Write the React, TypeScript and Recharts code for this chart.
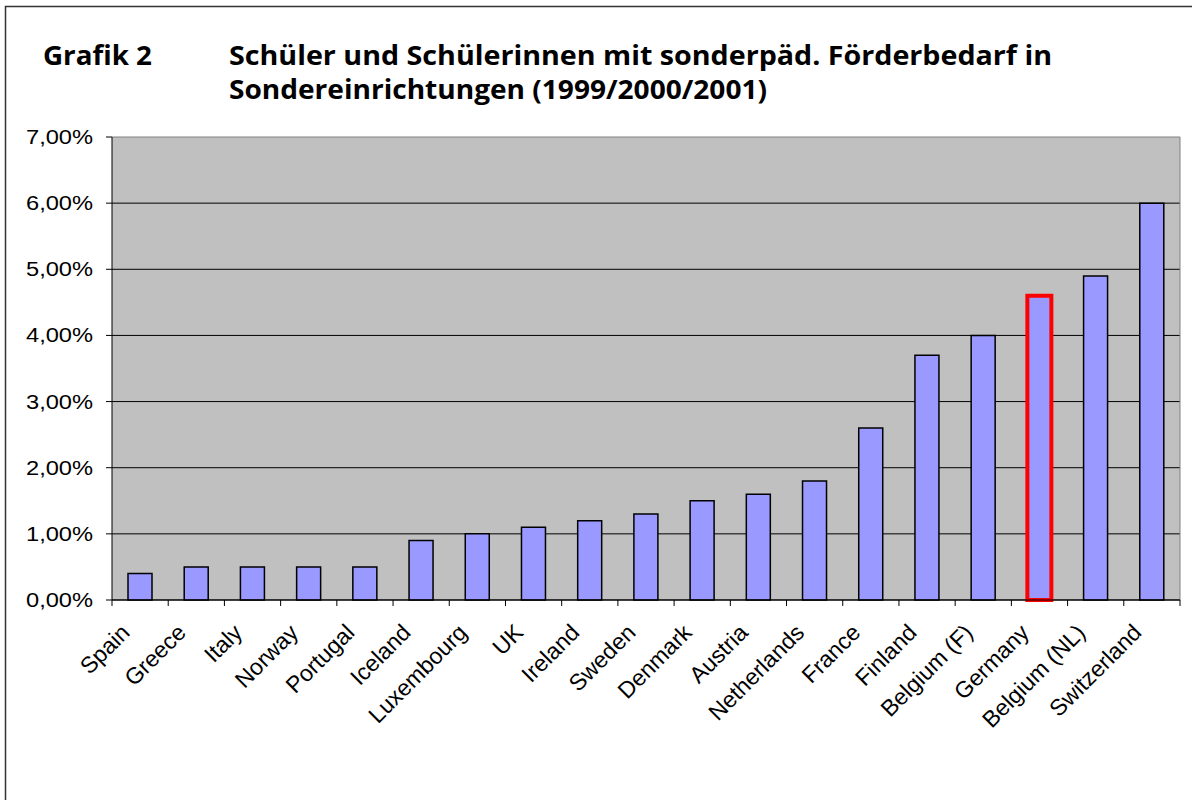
import { BarChart, Bar, Cell, XAxis, YAxis, CartesianGrid } from "recharts";

const countries = [
  "Spain",
  "Greece",
  "Italy",
  "Norway",
  "Portugal",
  "Iceland",
  "Luxembourg",
  "UK",
  "Ireland",
  "Sweden",
  "Denmark",
  "Austria",
  "Netherlands",
  "France",
  "Finland",
  "Belgium (F)",
  "Germany",
  "Belgium (NL)",
  "Switzerland",
];
// Anteil in Prozent
const shares = [0.4, 0.5, 0.5, 0.5, 0.5, 0.9, 1.0, 1.1, 1.2, 1.3, 1.5, 1.6, 1.8, 2.6, 3.7, 4.0, 4.6, 4.9, 6.0];
const yTicks = [0, 1, 2, 3, 4, 5, 6, 7];
const highlighted = ["Germany"];
const titleLabel = "Grafik 2";
const titleLines = [
  "Schüler und Schülerinnen mit sonderpäd. Förderbedarf in",
  "Sondereinrichtungen (1999/2000/2001)",
];

const data = countries.map((name, i) => ({ name, value: shares[i] }));

const axisFont = "'Liberation Sans', Arial, sans-serif";
const titleFont = "'Open Sans', 'Noto Sans', sans-serif";

const fmtPercent = (v: number) => v.toFixed(2).replace(".", ",") + "%";

const CountryTick = (props: any) => {
  const { x, y, payload, index, visibleTicksCount } = props;
  const half = payload.offset ?? 28.1;
  const axisY = y - 6;
  return (
    <g>
      <line x1={x - half} x2={x - half} y1={axisY} y2={axisY + 6} stroke="#000" />
      {index === visibleTicksCount - 1 && (
        <line x1={x + half} x2={x + half} y1={axisY} y2={axisY + 6} stroke="#000" />
      )}
      <text
        transform={`translate(${x - 9},${y + 28}) rotate(-45)`}
        textAnchor="end"
        fontSize={23}
        fontFamily={axisFont}
        fill="#000"
      >
        {payload.value}
      </text>
    </g>
  );
};

const PercentTick = (props: any) => {
  const { x, y, payload } = props;
  return (
    <text
      x={x}
      y={y}
      dy={7}
      textAnchor="end"
      fontSize={20}
      fontFamily={axisFont}
      fill="#000"
      textLength={67}
      lengthAdjust="spacingAndGlyphs"
    >
      {fmtPercent(payload.value)}
    </text>
  );
};

export default function App() {
  return (
    <div style={{ position: "absolute", left: 0, top: 0, width: 1192, height: 800, background: "#fff" }}>
      <BarChart
        width={1192}
        height={800}
        data={data}
        margin={{ top: 137, right: 12, left: 0, bottom: 0 }}
      >
        <CartesianGrid
          fill="#C0C0C0"
          fillOpacity={1}
          vertical={false}
          stroke="#000"
          horizontalValues={yTicks.slice(0, -1)}
        />
        <CartesianGrid
          horizontalValues={[7]}
          verticalCoordinatesGenerator={({ offset }: any) => [offset.left + offset.width]}
          stroke="#808080"
        />
        <XAxis
          dataKey="name"
          interval={0}
          height={200}
          tickSize={6}
          tickMargin={0}
          tickLine={false}
          axisLine={{ stroke: "#000" }}
          tick={<CountryTick />}
        />
        <YAxis
          width={112}
          domain={[0, 7]}
          ticks={yTicks}
          tickSize={6}
          tickMargin={13}
          axisLine={{ stroke: "#000" }}
          tickLine={{ stroke: "#000" }}
          tick={<PercentTick />}
        />
        <Bar dataKey="value" barSize={24} isAnimationActive={false}>
          {data.map((d) => {
            const hot = highlighted.includes(d.name);
            return (
              <Cell
                key={d.name}
                fill="#9999FF"
                stroke={hot ? "#FF0000" : "#000"}
                strokeWidth={hot ? 4 : 1.5}
              />
            );
          })}
        </Bar>
      </BarChart>
      <svg
        width={1192}
        height={800}
        style={{ position: "absolute", left: 0, top: 0, pointerEvents: "none" }}
      >
        <rect x={5.5} y={6.5} width={1300} height={1000} fill="none" stroke="#333" strokeWidth={1.5} />
        <g fontFamily={titleFont} fontWeight="bold" fontSize={26} fill="#000">
          <text x={43} y={65} textLength={109} lengthAdjust="spacingAndGlyphs">
            {titleLabel}
          </text>
          <text x={229} y={65} textLength={823} lengthAdjust="spacingAndGlyphs">
            {titleLines[0]}
          </text>
          <text x={229} y={99} textLength={538} lengthAdjust="spacingAndGlyphs">
            {titleLines[1]}
          </text>
        </g>
      </svg>
    </div>
  );
}
